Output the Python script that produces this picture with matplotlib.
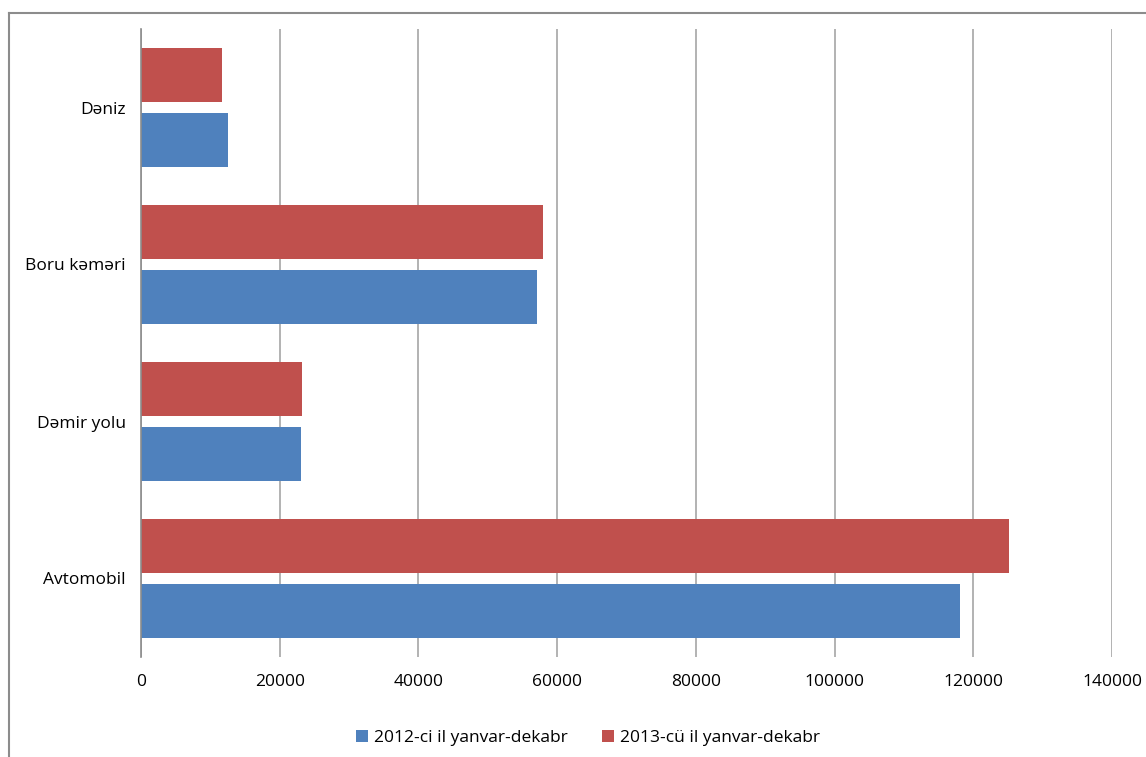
import matplotlib
matplotlib.use("Agg")
import matplotlib.pyplot as plt
from matplotlib.lines import Line2D
from matplotlib.patches import Patch
import numpy as np

plt.rcParams['font.family'] = ['Open Sans', 'DejaVu Sans']

categories = ["Avtomobil", "Dəmir yolu", "Boru kəməri", "Dəniz"]
series_names = ["2012-ci il yanvar-dekabr", "2013-cü il yanvar-dekabr"]
values_2012 = [118100, 23000, 57100, 12500]
values_2013 = [125200, 23200, 57950, 11650]
xticks = [0, 20000, 40000, 60000, 80000, 100000, 120000, 140000]

blue = "#4F81BD"
red = "#C0504D"

W, H = 1146, 757
fig = plt.figure(figsize=(W / 100, H / 100), dpi=100)
ax = fig.add_axes([141 / W, 1 - 657 / H, (1112 - 141) / W, (657 - 29) / H])

y = np.arange(len(categories))
off = 0.207
h = 0.343
ax.barh(y - off, values_2012, height=h, color=blue, zorder=3, label=series_names[0])
ax.barh(y + off, values_2013, height=h, color=red, zorder=3, label=series_names[1])

ax.set_xlim(0, 140000)
ax.set_ylim(-0.5, len(categories) - 0.5)
ax.set_xticks(xticks)
ax.set_xticklabels([str(t) for t in xticks])
ax.set_yticks(y)
ax.set_yticklabels(categories)
ax.tick_params(axis='x', length=0, pad=12, labelsize=12.5, colors='black')
ax.tick_params(axis='y', length=0, pad=11, labelsize=12.5, colors='black')
ax.grid(axis='x', color='#A6A6A6', linewidth=1.2, zorder=0)
for s in ['top', 'right', 'bottom']:
    ax.spines[s].set_visible(False)
ax.spines['left'].set_color('#8C8C8C')
ax.spines['left'].set_linewidth(1.2)
ax.spines['left'].set_zorder(4)

handles = [Patch(facecolor=blue, edgecolor='none'), Patch(facecolor=red, edgecolor='none')]
fig.legend(handles, series_names, loc='center', bbox_to_anchor=(588 / W, 1 - 738 / H),
           ncol=2, frameon=False, fontsize=12.5, handlelength=0.65, handleheight=0.65,
           handletextpad=0.35, columnspacing=2.0)

# outer chart border (only top and left visible in the reference)
fig.add_artist(Line2D([8.5 / W, 1.01], [1 - 12.5 / H, 1 - 12.5 / H], color='#8C8C8C', linewidth=1.5,
                      transform=fig.transFigure))
fig.add_artist(Line2D([8.5 / W, 8.5 / W], [1 - 12.5 / H, -0.01], color='#8C8C8C', linewidth=1.5,
                      transform=fig.transFigure))

fig.savefig("out.png", dpi=100)
